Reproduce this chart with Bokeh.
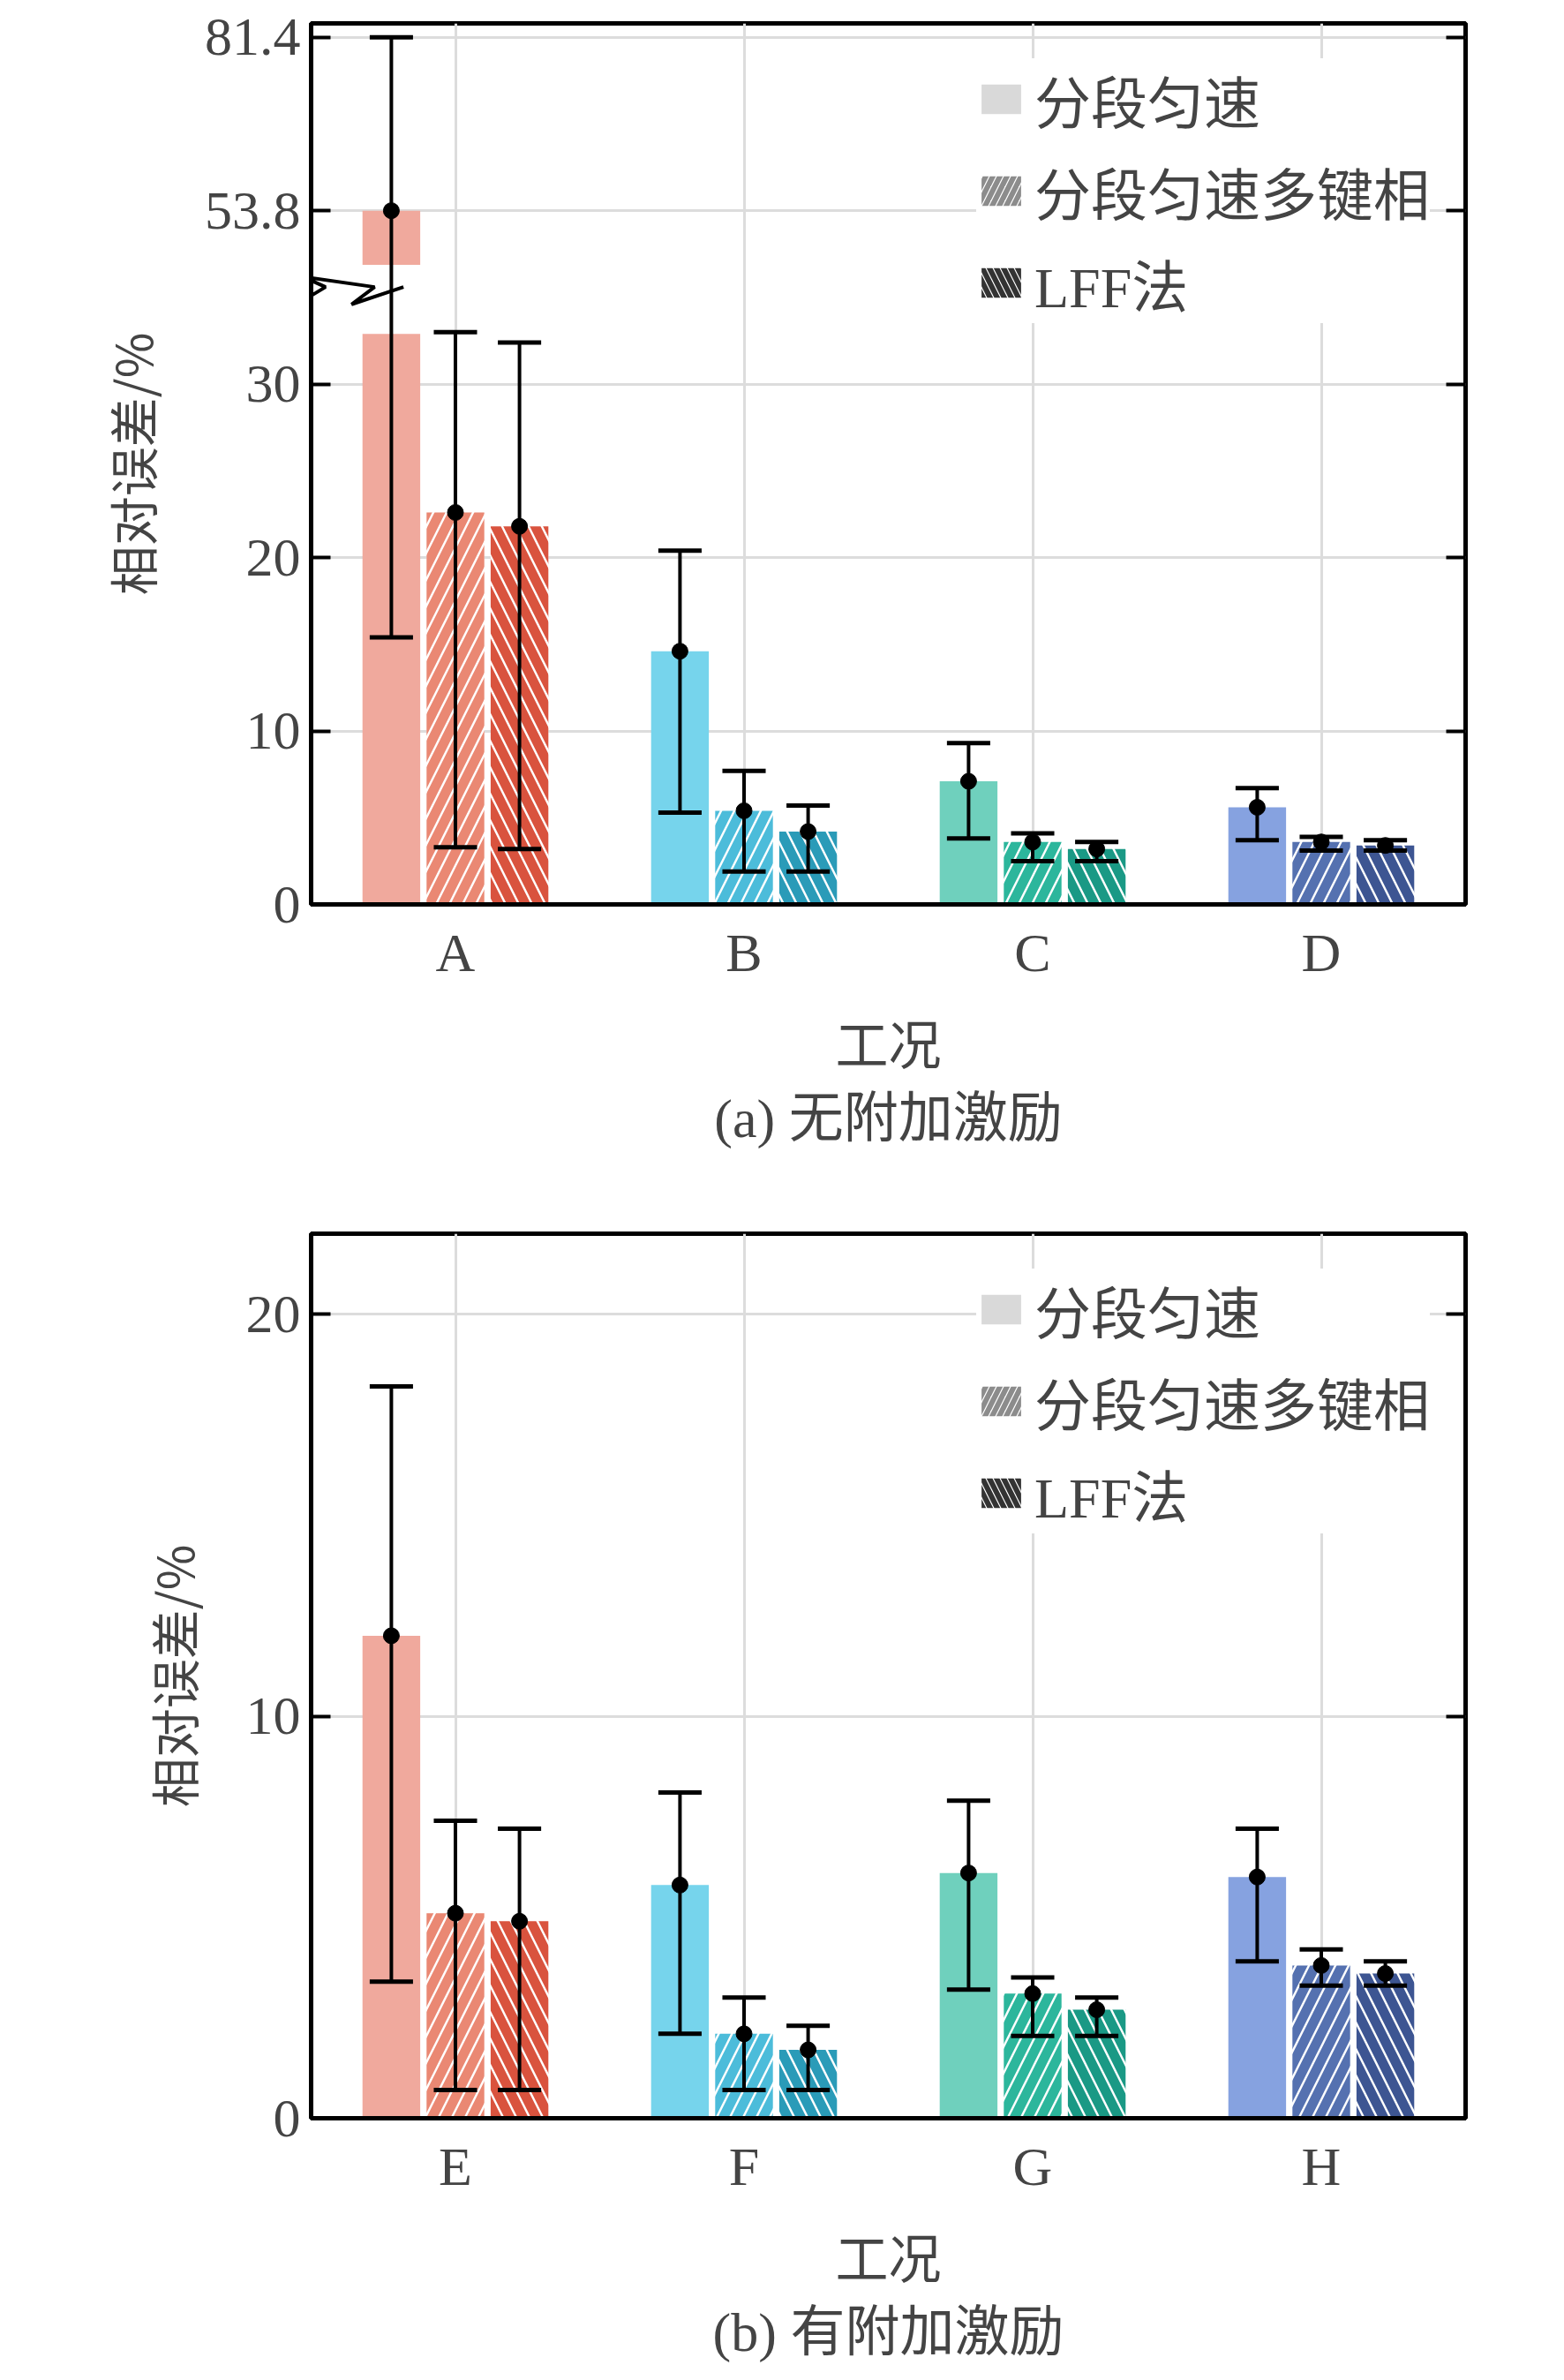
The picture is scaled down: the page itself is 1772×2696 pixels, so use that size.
from bokeh.plotting import figure
from bokeh.models import (ColumnDataSource, FixedTicker, LinearAxis, Range1d, Legend, LegendItem, Title)
from bokeh.layouts import column
from bokeh.embed import file_html
from bokeh.resources import INLINE

methods = ["分段匀速", "分段匀速多键相", "LFF法"]
cats_a = ["A", "B", "C", "D"]
cats_b = ["E", "F", "G", "H"]
val_a = [[53.8, 22.6, 21.8], [14.6, 5.4, 4.2], [7.1, 3.6, 3.2], [5.6, 3.6, 3.4]]
low_a = [[15.4, 3.3, 3.2], [5.3, 1.9, 1.9], [3.8, 2.5, 2.5], [3.7, 3.1, 3.1]]
high_a = [[81.4, 33.0, 32.4], [20.4, 7.7, 5.7], [9.3, 4.1, 3.6], [6.7, 3.9, 3.7]]
val_b = [[12.0, 5.1, 4.9], [5.8, 2.1, 1.7], [6.1, 3.1, 2.7], [6.0, 3.8, 3.6]]
low_b = [[3.4, 0.7, 0.7], [2.1, 0.7, 0.7], [3.2, 2.05, 2.05], [3.9, 3.3, 3.3]]
high_b = [[18.2, 7.4, 7.2], [8.1, 3.0, 2.3], [7.9, 3.5, 3.0], [7.2, 4.2, 3.9]]
colors = [["#f0a99d", "#ea8873", "#d9533e"], ["#76d4ec", "#4cbcda", "#2a9bb8"],
          ["#6fd0bd", "#2cb69c", "#1a9985"], ["#86a2e0", "#5571b0", "#3d5592"]]
ticks_a_vals = [0, 10, 20, 30, 53.8, 81.4]
ticks_a_labels = ["0", "10", "20", "30", "53.8", "81.4"]
ticks_b_vals = [0, 10, 20]

SERIF = "Liberation Serif, Noto Sans CJK SC"
CJK = "Noto Sans CJK SC"
BRK_LO, BRK_HI = 32.9, 45.2


def fa(v):
    return v if v <= 35 else 40 + (v - 53.8) / 2.76


def ident(v):
    return v


def make(cats, vals, lows, highs, tf, ymax, tickvals, ticklabels, caption, h, btop, bbot):
    p = figure(width=1740, height=h, output_backend="svg", toolbar_location=None,
               x_range=Range1d(0.5, 4.5), y_range=Range1d(0, ymax),
               min_border_left=352, min_border_right=80, min_border_top=btop, min_border_bottom=bbot)
    p.outline_line_color = "black"
    p.outline_line_width = 5
    offs = [-0.222, 0.0, 0.222]
    hatches = [None, "/", "\\"]
    for g in range(4):
        for m in range(3):
            x = g + 1 + offs[m]
            v = vals[g][m]
            c = colors[g][m]
            if tf is fa and v > 35:
                segs = [(0, BRK_LO), (BRK_HI, v)]
            else:
                segs = [(0, v)]
            for b0, t0 in segs:
                if hatches[m] is None:
                    p.vbar(x=[x], bottom=[tf(b0)], top=[tf(t0)], width=0.2, fill_color=c, line_color=None)
                else:
                    p.vbar(x=[x], bottom=[tf(b0)], top=[tf(t0)], width=0.2, fill_color="white", line_color=None,
                           hatch_pattern=hatches[m], hatch_color=c, hatch_scale=30, hatch_weight=11)
            lo, hi = tf(lows[g][m]), tf(highs[g][m])
            p.segment(x0=[x], x1=[x], y0=[lo], y1=[hi], line_color="black", line_width=4)
            p.segment(x0=[x - 0.075, x - 0.075], x1=[x + 0.075, x + 0.075], y0=[lo, hi], y1=[lo, hi],
                      line_color="black", line_width=5)
            p.scatter(x=[x], y=[tf(v)], size=18, color="black")
    if tf is fa:
        zx = [0.45, 0.55, 0.47, 0.72, 0.64, 0.82]
        zy = [34.6, 35.6, 36.2, 35.6, 34.6, 35.6]
        p.line(x=zx, y=zy, line_color="black", line_width=4)
    items = []
    src = ColumnDataSource(dict(x=[-10], t=[0]))
    r1 = p.vbar(x="x", top="t", width=0.2, source=src, fill_color="#d9d9d9", line_color=None)
    r2 = p.vbar(x="x", top="t", width=0.2, source=src, fill_color="white", line_color=None,
                hatch_pattern="/", hatch_color="#8c8c8c", hatch_scale=16, hatch_weight=6)
    r3 = p.vbar(x="x", top="t", width=0.2, source=src, fill_color="white", line_color=None,
                hatch_pattern="\\", hatch_color="#333333", hatch_scale=16, hatch_weight=6)
    for r, lab in zip([r1, r2, r3], methods):
        items.append(LegendItem(label=lab, renderers=[r]))
    leg = Legend(items=items, location="top_right",
                 label_text_font=SERIF, label_text_font_size="64px", glyph_width=56, glyph_height=42,
                 spacing=12, padding=10, margin=40, border_line_color=None, background_fill_alpha=1,
                 label_standoff=10)
    p.add_layout(leg)
    tvals = [tf(t) for t in tickvals]
    p.yaxis.ticker = FixedTicker(ticks=tvals)
    p.yaxis.major_label_overrides = {tf(t): l for t, l in zip(tickvals, ticklabels)}
    p.yaxis.major_tick_in = 22
    p.yaxis.major_tick_out = 0
    p.yaxis.minor_tick_line_color = None
    p.yaxis.axis_line_width = 5
    p.yaxis.major_tick_line_width = 4
    p.yaxis.major_label_text_font = SERIF
    p.yaxis.major_label_text_font_size = "62px"
    p.yaxis.major_label_standoff = 12
    p.yaxis.axis_label = "相对误差/%"
    p.yaxis.axis_label_text_font = CJK
    p.yaxis.axis_label_text_font_size = "56px"
    p.yaxis.axis_label_text_font_style = "normal"
    p.yaxis.axis_label_standoff = 40
    ra = LinearAxis(ticker=FixedTicker(ticks=tvals), major_label_text_font_size="0px",
                    major_tick_in=22, major_tick_out=0, minor_tick_line_color=None,
                    major_tick_line_width=4, axis_line_color=None)
    p.add_layout(ra, "right")
    p.xaxis.ticker = FixedTicker(ticks=[1, 2, 3, 4])
    p.xaxis.major_label_overrides = {i + 1: c for i, c in enumerate(cats)}
    p.xaxis.major_tick_line_color = None
    p.xaxis.minor_tick_line_color = None
    p.xaxis.axis_line_width = 5
    p.xaxis.major_label_text_font = SERIF
    p.xaxis.major_label_text_font_size = "62px"
    p.xaxis.major_label_standoff = 14
    p.xaxis.axis_label = "工况"
    p.xaxis.axis_label_text_font = CJK
    p.xaxis.axis_label_text_font_size = "60px"
    p.xaxis.axis_label_text_font_style = "normal"
    p.xaxis.axis_label_standoff = 20
    p.add_layout(Title(text=caption, text_font=SERIF, text_font_size="62px", text_font_style="normal",
                       align="center", offset=-70), "below")
    p.xgrid.ticker = FixedTicker(ticks=[1, 2, 3, 4])
    p.xgrid.grid_line_color = "#dcdcdc"
    p.xgrid.grid_line_width = 3
    p.ygrid.grid_line_color = "#dcdcdc"
    p.ygrid.grid_line_width = 3
    return p


p1 = make(cats_a, val_a, low_a, high_a, fa, 50.8, ticks_a_vals, ticks_a_labels,
          "(a) 无附加激励", 1350, 26, 326)
p2 = make(cats_b, val_b, low_b, high_b, ident, 22.0, ticks_b_vals, ["0", "10", "20"],
          "(b) 有附加激励", 1330, 47, 281)
lay = column(p1, p2, spacing=0)
open("out.html", "w").write(file_html(lay, INLINE))
